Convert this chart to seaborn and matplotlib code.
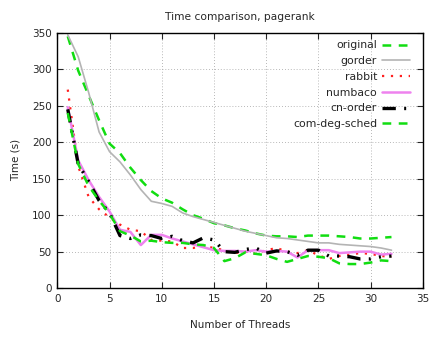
import matplotlib
matplotlib.use('Agg')
import matplotlib.pyplot as plt
import seaborn as sns

threads = list(range(1, 33))

original = [345, 298, 264, 230, 198, 185, 165, 148, 133, 123, 117, 108, 100, 95, 89, 86,
            82, 79, 75, 72, 71, 71, 70, 72, 72, 72, 71, 70, 68, 68, 69, 70]
gorder = [347, 317, 268, 214, 187, 173, 155, 135, 119, 116, 112, 103, 98, 94, 90, 86,
          82, 78, 75, 72, 69, 68, 66, 64, 62, 62, 60, 59, 58, 57, 55, 52]
rabbit = [272, 167, 125, 108, 97, 87, 80, 78, 66, 65, 64, 55, 55, 58, 55, 52,
          48, 50, 47, 52, 55, 50, 48, 52, 45, 40, 44, 46, 48, 47, 44, 43]
numbaco = [248, 175, 148, 125, 105, 80, 77, 59, 73, 73, 68, 64, 60, 56, 52, 51,
           51, 50, 52, 50, 51, 50, 42, 52, 52, 52, 48, 49, 50, 50, 46, 47]
cn_order = [245, 170, 146, 120, 103, 72, 68, 73, 72, 68, 71, 65, 62, 69, 66, 50,
            49, 53, 55, 48, 51, 50, 45, 52, 52, 44, 44, 43, 40, 40, 43, 44]
com_deg_sched = [240, 170, 140, 120, 102, 78, 72, 64, 65, 63, 62, 62, 60, 59, 55, 37,
                 41, 49, 47, 45, 40, 36, 40, 44, 43, 41, 34, 33, 33, 35, 38, 37]

sns.set_style('ticks')
plt.rcParams['font.family'] = ['DejaVu Sans']

fig = plt.figure(figsize=(4.31, 3.37), dpi=100)
ax = fig.add_axes([0.133, 0.145, 0.848, 0.758])

green = '#11dd11'
series = [
    ('original', original, dict(color=green, lw=1.8, linestyle=(0, (3.5, 3)))),
    ('gorder', gorder, dict(color='#b4b4b4', lw=1.2, linestyle='-')),
    ('rabbit', rabbit, dict(color='#ff2020', lw=1.6, linestyle=(0, (1, 3)))),
    ('numbaco', numbaco, dict(color='#ee82ee', lw=1.8, linestyle='-')),
    ('cn-order', cn_order, dict(color='black', lw=2.4, linestyle=(0, (4, 2.5, 0.6, 2.5, 0.6, 2.5)))),
    ('com-deg-sched', com_deg_sched, dict(color=green, lw=1.8, linestyle=(0, (3.5, 3)))),
]
for name, vals, st in series:
    sns.lineplot(x=threads, y=vals, ax=ax, label=name, **st)

ax.set_xlim(0, 35)
ax.set_ylim(0, 350)
ax.set_xticks(range(0, 36, 5))
ax.set_yticks(range(0, 351, 50))
ax.tick_params(direction='in', length=4, width=0.8, labelsize=7.5,
               top=True, right=True, pad=4)
for s in ax.spines.values():
    s.set_linewidth(1.0)
    s.set_color('black')
ax.grid(True, linestyle=(0, (1, 2.5)), color='#a0a0a0', linewidth=0.6)

ax.set_title('Time comparison, pagerank', fontsize=7.7, pad=9)
ax.set_xlabel('Number of Threads', fontsize=7.5, labelpad=12)
ax.set_ylabel('Time (s)', fontsize=7.5, labelpad=8)

leg = ax.legend(loc='upper right', frameon=False, markerfirst=False, fontsize=7.8,
                handlelength=2.6, handletextpad=0.45, labelspacing=0.53,
                borderaxespad=0.6, bbox_to_anchor=(0.995, 1.012))
for t in leg.get_texts():
    t.set_ha('right')

fig.savefig('out.png', dpi=100)
